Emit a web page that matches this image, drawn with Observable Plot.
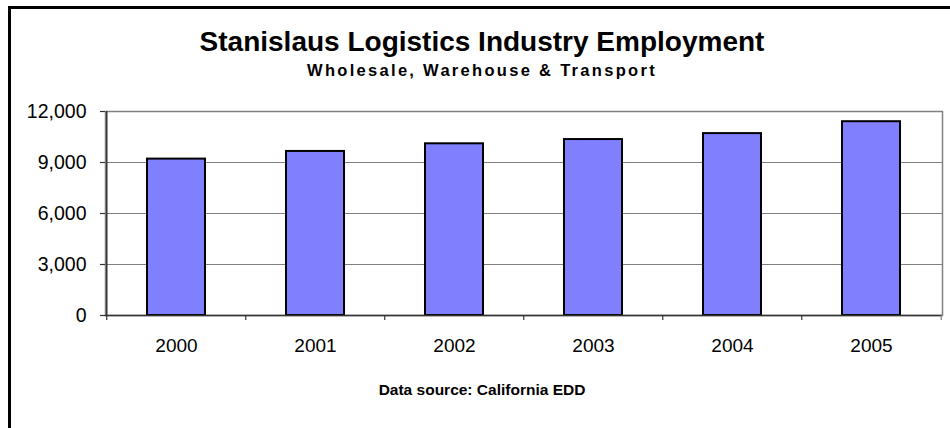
<!DOCTYPE html>
<html>
<head>
<meta charset="utf-8">
<script src="https://cdn.jsdelivr.net/npm/d3@7"></script>
<script src="https://cdn.jsdelivr.net/npm/@observablehq/plot@0.6"></script>
<style>
  html, body { margin: 0; padding: 0; background: #fff; }
  #wrap { position: relative; width: 950px; height: 428px; overflow: hidden; background: #fff;
          font-family: "Liberation Sans", Arial, sans-serif; color: #000; }
  #border { position: absolute; left: 8px; top: 6px; width: 1000px; height: 1000px;
            border: 3px solid #000; box-sizing: border-box; }
  .t { position: absolute; left: 0; width: 964px; text-align: center; white-space: nowrap; font-weight: bold; }
  #title { font-size: 28px; line-height: 28px; top: 28px; }
  #subtitle { font-size: 16.5px; line-height: 16.5px; top: 62px; letter-spacing: 2.3px; }
  #caption { font-size: 15.5px; line-height: 15.5px; top: 381.5px; letter-spacing: 0px; }
  #chart { position: absolute; left: 0; top: 0; }
</style>
</head>
<body>
<div id="wrap">
  <div id="border"></div>
  <div id="chart"></div>
  <div class="t" id="title">Stanislaus Logistics Industry Employment</div>
  <div class="t" id="subtitle">Wholesale, Warehouse &amp; Transport</div>
  <div class="t" id="caption">Data source: California EDD</div>
</div>
<script>
const years = ["2000", "2001", "2002", "2003", "2004", "2005"];
const employment = [9200, 9650, 10100, 10350, 10700, 11400];
const yTicks = [0, 3000, 6000, 9000, 12000];

const data = years.map((year, i) => ({year, value: employment[i]}));

const W = 950, H = 428;
const mL = 105, mR = 8, mT = 111, mB = 113;
const step = (W - mL - mR) / years.length;
const pad = 0.583;

const chart = Plot.plot({
  width: W,
  height: H,
  marginLeft: mL,
  marginRight: mR,
  marginTop: mT,
  marginBottom: mB,
  style: {fontFamily: "'Liberation Sans', Arial, sans-serif", color: "#000", background: "transparent", overflow: "visible"},
  x: {type: "band", domain: years, paddingInner: pad, paddingOuter: pad / 2, axis: null},
  y: {domain: [0, 12000], axis: null},
  marks: [
    Plot.frame({stroke: "#808080", strokeWidth: 1.5}),
    Plot.ruleY(yTicks.filter(d => d > 0), {stroke: "#808080", strokeWidth: 1.2}),
    Plot.barY(data, {x: "year", y: "value", fill: "#8080FF", stroke: "#000", strokeWidth: 2}),
    Plot.ruleY([0], {stroke: "#333", strokeWidth: 1.5}),
    Plot.ruleX([years[0]], {x: d => d, dx: -step / 2, stroke: "#333", strokeWidth: 1.5}),
    Plot.axisY({ticks: yTicks, tickSize: 5, tickPadding: 14, tickFormat: d3.format(","), label: null,
                fontSize: 19.5, stroke: "#333", strokeWidth: 1.2, fill: "#000"}),
    Plot.axisX({tickSize: 5, dx: -step / 2, tickFormat: () => "", label: null, stroke: "#333", strokeWidth: 1.2}),
    Plot.axisX({ticks: [years[years.length - 1]], tickSize: 5, dx: step / 2, tickFormat: () => "", label: null, stroke: "#808080", strokeWidth: 1.2}),
    Plot.axisX({tickSize: 0, tickPadding: 23, fontSize: 19, fill: "#000", label: null})
  ]
});
document.getElementById("chart").appendChild(chart);
</script>
</body>
</html>
